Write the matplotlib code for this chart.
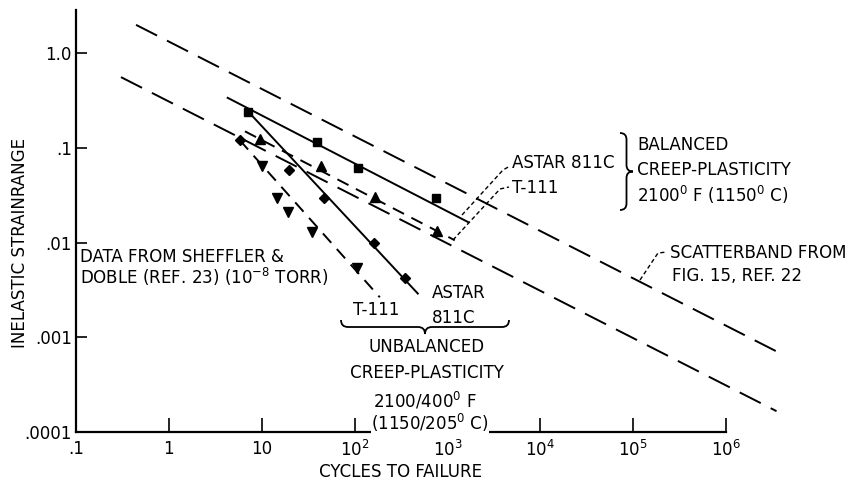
import matplotlib
matplotlib.use("Agg")
import matplotlib.pyplot as plt
from matplotlib import font_manager as fm
from matplotlib.path import Path
from matplotlib.patches import PathPatch
from matplotlib.lines import Line2D

## Values (cycles to failure, inelastic strainrange)

# balanced creep-plasticity, ASTAR 811C (squares) and its fitted line
astar_bal_n = [7.2, 39, 109, 750]
astar_bal_e = [0.241, 0.116, 0.062, 0.030]
astar_bal_fit_n = [4.3, 1670]
astar_bal_fit_e = [0.339, 0.0165]

# balanced creep-plasticity, T-111 (up triangles)
t111_bal_n = [9.6, 43, 168, 775]
t111_bal_e = [0.124, 0.064, 0.0304, 0.0133]
t111_bal_fit_n = [6.6, 1200]
t111_bal_fit_e = [0.150, 0.0106]

# unbalanced creep-plasticity, ASTAR 811C (diamonds)
astar_unb_n = [5.8, 19.6, 46.7, 161, 348]
astar_unb_e = [0.121, 0.058, 0.0294, 0.010, 0.0042]
astar_unb_fit_n = [7.2, 480]
astar_unb_fit_e = [0.241, 0.0029]

# unbalanced creep-plasticity, T-111 (down triangles)
t111_unb_n = [10.0, 14.6, 19.1, 34.7, 106]
t111_unb_e = [0.064, 0.0294, 0.0209, 0.0129, 0.00535]
t111_unb_fit_n = [5.8, 187]
t111_unb_fit_e = [0.121, 0.00265]

# scatterband from fig. 15, ref. 22
band_upper_n = [0.443, 3.5e6]
band_upper_e = [2.0, 7.1e-4]
band_lower_n = [0.305, 3.5e6]
band_lower_e = [0.561, 1.66e-4]

x_ticks = [0.1, 1, 10, 1e2, 1e3, 1e4, 1e5, 1e6]
x_ticklabels = [".1", "1", "10", "$10^2$", "$10^3$", "$10^4$", "$10^5$", "$10^6$"]
y_ticks = [1e-4, 1e-3, 1e-2, 1e-1, 1.0]
y_ticklabels = [".0001", ".001", ".01", ".1", "1.0"]

## pick a narrow face if one is installed, the reference lettering is condensed
names = {f.name for f in fm.fontManager.ttflist}
stretch = "normal"
if "Liberation Sans Narrow" in names:
    FONT, FS = "Liberation Sans Narrow", 14.5
elif any(f.name == "DejaVu Sans" and f.stretch == "condensed" for f in fm.fontManager.ttflist):
    FONT, FS, stretch = "DejaVu Sans", 13.3, "condensed"
else:
    FONT, FS = "DejaVu Sans", 11.5

plt.rcParams["font.family"] = [FONT, "DejaVu Sans"]
plt.rcParams["font.stretch"] = stretch
plt.rcParams["font.size"] = FS
plt.rcParams["mathtext.fontset"] = "custom"
plt.rcParams["mathtext.rm"] = FONT
plt.rcParams["mathtext.default"] = "rm"
plt.rcParams["lines.scale_dashes"] = False

W, H = 848, 483
fig = plt.figure(figsize=(W / 100, H / 100), dpi=100)
ax = fig.add_axes([76 / W, 1 - 432 / H, 650 / W, 422 / H])

def fx(x):
    return x / W

def fy(y):
    return 1 - y / H

LONG = (0, (17, 8))
MED = (0, (9, 6))
LEAD = (0, (3, 2))
LW = 1.4

# scatterband
ax.plot(band_upper_n, band_upper_e, color="black", lw=LW, ls=LONG, clip_on=False)
ax.plot(band_lower_n, band_lower_e, color="black", lw=LW, ls=LONG, clip_on=False)

# balanced
ax.plot(astar_bal_fit_n, astar_bal_fit_e, color="black", lw=LW)
ax.plot(astar_bal_n, astar_bal_e, ls="none", marker="s", ms=6, color="black")
ax.plot(t111_bal_fit_n, t111_bal_fit_e, color="black", lw=LW, ls=MED)
ax.plot(t111_bal_n, t111_bal_e, ls="none", marker="^", ms=6.5, color="black")

# unbalanced
ax.plot(astar_unb_fit_n, astar_unb_fit_e, color="black", lw=LW)
ax.plot(astar_unb_n, astar_unb_e, ls="none", marker="D", ms=5, color="black")
ax.plot(t111_unb_fit_n, t111_unb_fit_e, color="black", lw=LW, ls=MED)
ax.plot(t111_unb_n, t111_unb_e, ls="none", marker="v", ms=6.5, color="black")

ax.set_xscale("log")
ax.set_yscale("log")
ax.set_xlim(0.1, 1e6)
ax.set_ylim(1e-4, 2.87)
ax.set_xticks(x_ticks)
ax.set_xticklabels(x_ticklabels)
ax.set_yticks(y_ticks)
ax.set_yticklabels(y_ticklabels)
ax.minorticks_off()
ax.tick_params(axis="x", direction="in", length=10, width=1.2, pad=6)
ax.tick_params(axis="y", direction="in", length=8, width=1.2, pad=3)
for s in ["top", "right"]:
    ax.spines[s].set_visible(False)
for s in ["left", "bottom"]:
    ax.spines[s].set_linewidth(1.6)

ax.set_ylabel("INELASTIC STRAINRANGE", va="center")
ax.yaxis.set_label_coords(-0.086, 0.448)
ax.set_xlabel("CYCLES TO FAILURE", va="center")
ax.xaxis.set_label_coords(0.5, -0.095)

# annotations (positions in reference pixels)
def note(s, x, y, ha="left", mask=False):
    t = fig.text(fx(x), fy(y), s, ha=ha, va="center", zorder=5)
    if mask:
        t.set_bbox(dict(facecolor="white", edgecolor="none", pad=0))

note("ASTAR 811C", 512, 163)
note("T-111", 512, 188)
note("BALANCED", 637, 145)
note("CREEP-PLASTICITY", 637, 170)
note("2100$^0$ F (1150$^0$ C)", 637, 195)
note("SCATTERBAND FROM", 670, 253)
note("FIG. 15, REF. 22", 672, 276)
note("DATA FROM SHEFFLER &", 80, 257)
note("DOBLE (REF. 23) (10$^{-8}$ TORR)", 80, 277)
note("T-111", 376, 310, "center")
note("ASTAR", 432, 293)
note("811C", 432, 318)
note("UNBALANCED", 427, 347, "center")
note("CREEP-PLASTICITY", 427, 373, "center")
note("2100/400$^0$ F", 425, 401, "center", mask=True)
note("(1150/205$^0$ C)", 430, 423, "center", mask=True)

# leaders
def leader(xs, ys):
    fig.add_artist(Line2D([fx(v) for v in xs], [fy(v) for v in ys],
                          transform=fig.transFigure, color="black", lw=1.0, ls=LEAD))

leader([462, 503, 510], [215, 170, 166])
leader([453, 500, 509], [240, 189, 187])
leader([640, 658, 667], [280, 253, 252])

# braces
def brace_v(x0, yt, yb, w):
    ym = (yt + yb) / 2
    xm = x0 + w / 2
    r = w / 2
    pts = [(x0, yt), (xm, yt), (xm, yt + r), (xm, ym - r), (xm, ym), (x0 + w, ym),
           (xm, ym), (xm, ym + r), (xm, yb - r), (xm, yb), (x0, yb)]
    codes = [Path.MOVETO, Path.CURVE3, Path.CURVE3, Path.LINETO, Path.CURVE3, Path.CURVE3,
             Path.CURVE3, Path.CURVE3, Path.LINETO, Path.CURVE3, Path.CURVE3]
    path = Path([(fx(a), fy(b)) for a, b in pts], codes)
    fig.add_artist(PathPatch(path, transform=fig.transFigure, fill=False, lw=1.3))

def brace_h(xl, xr, y0, h):
    xm = (xl + xr) / 2
    ym = y0 + h / 2
    r = h / 2
    pts = [(xl, y0), (xl, ym), (xl + r, ym), (xm - r, ym), (xm, ym), (xm, y0 + h),
           (xm, ym), (xm + r, ym), (xr - r, ym), (xr, ym), (xr, y0)]
    codes = [Path.MOVETO, Path.CURVE3, Path.CURVE3, Path.LINETO, Path.CURVE3, Path.CURVE3,
             Path.CURVE3, Path.CURVE3, Path.LINETO, Path.CURVE3, Path.CURVE3]
    path = Path([(fx(a), fy(b)) for a, b in pts], codes)
    fig.add_artist(PathPatch(path, transform=fig.transFigure, fill=False, lw=1.3))

brace_v(620, 133, 210, 13)
brace_h(341, 509, 320, 14)

fig.savefig("out.png", dpi=100)
